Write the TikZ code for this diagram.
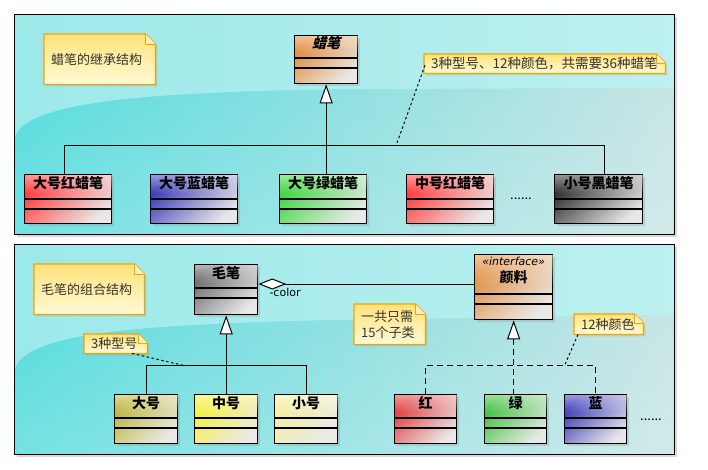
\documentclass[tikz,border=0pt]{standalone}
\usepackage{fontspec}
\setmainfont{Noto Sans CJK SC}
\newfontfamily\latf{DejaVu Sans}
\newfontfamily\cjkslant{Noto Sans CJK SC}[FakeSlant=0.25]
\usetikzlibrary{arrows.meta,calc,shadows,fadings}

\definecolor{notefill}{HTML}{FFE27A}
\definecolor{notefill2}{HTML}{FFFAD6}
\definecolor{noteedge}{HTML}{F2A500}
\definecolor{bgdeep}{HTML}{48D9DB}
\definecolor{bgpale}{HTML}{C4E3E3}
\definecolor{bglite1}{HTML}{9CE9EA}
\definecolor{bglite2}{HTML}{BDF0F0}
\definecolor{corange}{HTML}{E08A3A}
\definecolor{cred}{HTML}{FF3A3A}
\definecolor{cblue}{HTML}{3838B8}
\definecolor{cgreen}{HTML}{3AD63A}
\definecolor{cblack}{HTML}{2E2E2E}
\definecolor{cgray}{HTML}{6A6A6A}
\definecolor{colive}{HTML}{BDB43A}
\definecolor{cyellow}{HTML}{F6F03A}
\definecolor{cpale}{HTML}{F4EEA0}
\definecolor{cred2}{HTML}{E03A3A}
\definecolor{cgreen2}{HTML}{3CC03C}

\tikzset{
  panelbox/.style={anchor=north west, inner sep=0pt, fill=white,
    drop shadow={shadow xshift=3pt, shadow yshift=-3pt, opacity=0.3}},
  clsbox/.style={draw=black, line width=1.3pt, anchor=north west, inner sep=0pt,
    drop shadow={shadow xshift=2pt, shadow yshift=-2pt, opacity=0.25}},
  clstitle/.style={font=\fontsize{14}{17}\selectfont\bfseries, inner sep=0pt, align=center},
  notebox/.style={anchor=north west, inner sep=0pt},
  notetext/.style={font=\fontsize{13}{16}\selectfont, text=black!80, inner sep=0pt, align=left},
  link/.style={draw=black, line width=1pt},
  dotlink/.style={draw=black, line width=1pt, dash pattern=on 2.5pt off 2.5pt},
  dashlink/.style={draw=black, line width=1pt, dash pattern=on 6pt off 4pt},
  inherit/.style={{Triangle[length=19pt, width=13pt, fill=white, line width=1pt]}-},
}

% name, x, y, w, h, color, title height, title
\newcommand{\umlcls}[8]{%
  \node[clsbox, minimum width=#4pt, minimum height=#5pt,
        top color=#6, bottom color=#6!12!gray!18!white, shading angle=40] (#1) at (#2,#3) {};
  \fill[white, fill opacity=0.5, path fading=south]
    ($(#1.north west)+(0.7,0.7)$) rectangle ($(#1.north east)+(-0.7,#7*0.8)$);
  \draw[line width=1.2pt] ($(#1.north west)+(0,#7)$) -- ($(#1.north east)+(0,#7)$);
  \draw[line width=1.2pt] ($(#1.north west)+(0,#7+10)$) -- ($(#1.north east)+(0,#7+10)$);
  \node[clstitle] (#1-t) at ($(#1.north)+(0,#7/2-3)$) {#8};
}

% name, x, y, w, h, fold, text
\newcommand{\umlnote}[7]{%
  \node[notebox, minimum width=#4pt, minimum height=#5pt] (#1) at (#2,#3) {};
  \path[draw=noteedge, line width=1.3pt, top color=notefill, bottom color=notefill2,
        drop shadow={shadow xshift=2pt, shadow yshift=-2pt, opacity=0.2}]
    (#1.north west) -- ($(#1.north east)+(-#6,0)$) -- ($(#1.north east)+(0,#6)$)
    -- (#1.south east) -- (#1.south west) -- cycle;
  \draw[noteedge, line width=1pt, fill=notefill!50!white, line join=round]
    ($(#1.north east)+(-#6,0)$) -- ($(#1.north east)+(-#6,#6)$) -- ($(#1.north east)+(0,#6)$);
  \node[notetext, anchor=west] (#1-t) at ($(#1.west)+(7,0)$) {#7};
}

% name, x, y, w, h, light-area path
\newcommand{\mypanel}[6]{%
  \node[panelbox, minimum width=#4pt, minimum height=#5pt] (#1) at (#2,#3) {};
  \begin{scope}
    \clip (#1.north west) rectangle (#1.south east);
    \shade[left color=bgdeep, right color=bgpale]
      (#1.north west) rectangle (#1.south east);
    \fill[white, fill opacity=0.25, path fading=north]
      (#1.north west) rectangle (#1.south east);
    \shade[left color=bglite1, right color=bglite2] #6;
  \end{scope}
  \draw[line width=1pt] (#1.north west) rectangle (#1.south east);
}

\begin{document}
\begin{tikzpicture}[x=1pt,y=-1pt]
\useasboundingbox[fill=white] (0,0) rectangle (708,469);

% ---------- panels ----------
\mypanel{p1}{14}{14}{660}{220}{(14,14) -- (674,14) -- (674,88) -- (350,89) .. controls (120,92) and (20,105) .. (14,140) -- cycle}
\mypanel{p2}{14}{244}{660}{210}{(14,244) -- (674,244) -- (674,315) -- (330,320) .. controls (120,325) and (20,335) .. (14,372) -- cycle}

% ---------- top panel: inheritance ----------
\umlnote{n1}{44}{34}{111}{50}{10}{蜡笔的继承结构}
\umlnote{n2}{424}{54}{241}{19}{9}{\fontsize{13.5}{16}\selectfont 3种型号、12种颜色，共需要36种蜡笔}

\umlcls{cr}{294}{35}{63}{48}{corange}{23}{\cjkslant 蜡笔}
\umlcls{r1}{24}{174}{87}{49}{cred}{25}{大号红蜡笔}
\umlcls{b1}{150}{174}{87}{49}{cblue}{25}{大号蓝蜡笔}
\umlcls{g1}{279}{174}{87}{49}{cgreen}{25}{大号绿蜡笔}
\umlcls{r2}{406}{174}{87}{49}{cred}{25}{中号红蜡笔}
\umlcls{k1}{554}{174}{88}{49}{cblack}{25}{小号黑蜡笔}

\coordinate (jt) at ($(cr.south)+(0,61)$);
\draw[link, inherit] (cr.south) -- (cr.south |- g1.north);
\draw[link] ($(r1.north west)+(40,0)$) |- (jt) -| ($(k1.north west)+(50,0)$);
\draw[link] ($(b1.north west)+(44,0)$) -- ($(b1.north west)+(44,0)$ |- jt);
\draw[link] ($(r2.north west)+(49,0)$) -- ($(r2.north west)+(49,0)$ |- jt);

\coordinate (a2) at ($(jt)+(70,0)$);
\draw[dotlink] ($(n2.west)+(1,1.5)$) -- (a2);

\node[font=\fontsize{13}{15}\selectfont, inner sep=0pt, anchor=base] (dots1) at (521,199) {......};

% ---------- bottom panel: composition ----------
\umlnote{n3}{34}{264}{110}{50}{10}{毛笔的组合结构}
\umlnote{n4}{354}{304}{71}{40}{10}{一共只需\\15个子类}
\umlnote{n5}{84}{334}{63}{19}{9}{3种型号}
\umlnote{n6}{574}{314}{69}{20}{9}{12种颜色}

\umlcls{mb}{194}{264}{63}{50}{cgray}{24}{毛笔}
\umlcls{yl}{474}{254}{78}{65}{corange}{40}{{\latf\mdseries\itshape\fontsize{11}{13}\selectfont «interface»}\\颜料}
\umlcls{s1}{114}{394}{63}{49}{colive}{24}{大号}
\umlcls{s2}{194}{394}{63}{49}{cyellow}{24}{中号}
\umlcls{s3}{274}{394}{63}{49}{cpale}{24}{小号}
\umlcls{c1}{394}{394}{62}{49}{cred2}{24}{红}
\umlcls{c2}{484}{394}{62}{49}{cgreen2}{24}{绿}
\umlcls{c3}{564}{394}{62}{49}{cblue}{24}{蓝}

% composition
\coordinate (dm) at ($(mb.north east)+(0,20)$);
\draw[link, {Diamond[length=28pt, width=11pt, fill=white, line width=1pt]}-] (dm) -- (dm -| yl.west);
\node[font=\latf\fontsize{11}{13}\selectfont, inner sep=0pt, anchor=west] (lbl) at ($(dm)+(11,8)$) {-color};

% brush inheritance
\coordinate (jb) at ($(mb.south)+(0,50)$);
\draw[link, inherit] (mb.south) -- (mb.south |- s2.north);
\draw[link] (s1.north) |- (jb) -| (s3.north);

% colour realization
\coordinate (jc) at ($(yl.south)+(0,45)$);
\draw[dashlink, inherit] (yl.south) -- (yl.south |- c2.north);
\draw[dashlink] (c1.north) |- (jc) -| (c3.north);

% note links
\coordinate (a5) at ($(jb)+(-43,0)$);
\draw[dotlink] ($(n5.south west)+(48,0)$) -- (a5);
\coordinate (a6) at ($(jc)+(51,0)$);
\draw[dotlink] ($(n6.south west)+(4,0)$) -- (a6);

\node[font=\fontsize{13}{15}\selectfont, inner sep=0pt, anchor=base] (dots2) at (651,420) {......};
\end{tikzpicture}
\end{document}
